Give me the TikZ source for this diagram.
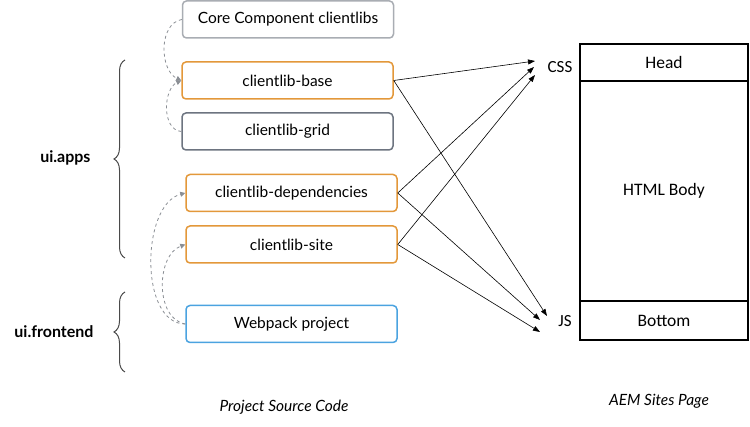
\documentclass[tikz,border=0pt]{standalone}
\usepackage{fontspec}
\setmainfont{Lato}
\newfontfamily\pagefont{Carlito}
\usetikzlibrary{arrows.meta,positioning,decorations.pathreplacing}
\definecolor{liborange}{HTML}{E3983A}
\definecolor{coregray}{HTML}{A9ADB3}
\definecolor{gridgray}{HTML}{6D7480}
\definecolor{webblue}{HTML}{4BA3E0}
\definecolor{depgray}{HTML}{8A8E94}
\definecolor{bracegray}{HTML}{4A4A4A}
\tikzset{
  lib/.style={
    draw=liborange,
    rounded corners=4pt,
    line width=1.5pt,
    fill=white,
    minimum width=211pt,
    minimum height=37pt,
    inner sep=0pt,
    font=\fontsize{15.5}{18}\selectfont
  },
  pagepart/.style={draw=black, line width=1.6pt, minimum width=168pt, inner sep=0pt, font=\pagefont\fontsize{17.5}{20}\selectfont},
  asset/.style={inner sep=0pt, font=\pagefont\fontsize{17}{20}\selectfont},
  load/.style={-{Triangle[length=7pt,width=5pt]}, line width=0.6pt},
  depline/.style={-{Triangle[length=5pt,width=5pt]}, dashed, draw=depgray, line width=0.8pt},
  group/.style={decorate, decoration={brace, amplitude=11pt}, line width=1pt, draw=bracegray},
  grouplabel/.style={font=\bfseries\fontsize{16}{19}\selectfont, anchor=east},
  caption/.style={font=\itshape\fontsize{15.5}{18}\selectfont}
}

\begin{document}
\begin{tikzpicture}[x=1pt, y=1pt]
  \useasboundingbox (0,0) rectangle (750,427);
  \node[lib, draw=coregray] (core) at (288,407.5) {Core Component clientlibs};
  \node[lib] (base) at (287.5,346.5) {clientlib-base};
  \node[lib, draw=gridgray] (grid) at (287.5,295.5) {clientlib-grid};
  \node[lib] (deps) at (291.5,234) {clientlib-dependencies};
  \node[lib] (site) at (291.5,182.5) {clientlib-site};
  \node[lib, draw=webblue] (webpack) at (291.5,103) {Webpack project};

  \node[pagepart, minimum height=37pt] (head) at (664,364.5) {Head};
  \node[pagepart, minimum height=220pt] (body) at (664,236) {HTML Body};
  \node[pagepart, minimum height=39pt] (bottom) at (664,106.5) {Bottom};
  \node[asset] (css) at (560,360) {CSS};
  \node[asset] (js) at (565,106) {JS};

  \coordinate (css1) at (535,366);
  \coordinate (css2) at (534,360);
  \coordinate (css3) at (535,352);
  \coordinate (js1) at (547,111);
  \coordinate (js2) at (540,107);
  \coordinate (js3) at (540,95);

  \draw[load] (base.east) -- (css1);
  \draw[load] (base.east) -- (js1);
  \draw[load] (deps.east) -- (css2);
  \draw[load] (deps.east) -- (js2);
  \draw[load] (site.east) -- (css3);
  \draw[load] (site.east) -- (js3);

  \draw[depline] (core.west) to[out=190, in=155] (base.west);
  \draw[depline] (grid.west) to[out=175, in=205] (base.west);
  \draw[depline] (webpack.west) to[out=180, in=195, looseness=0.9] (deps.west);
  \draw[depline] (webpack.west) to[out=170, in=200] (site.west);

  \coordinate (appstop) at (125,367);
  \coordinate (appsbot) at (125,169);
  \coordinate (fronttop) at (125,135);
  \coordinate (frontbot) at (125,55);
  \draw[group] (appsbot) -- (appstop);
  \draw[group] (frontbot) -- (fronttop);
  \node[grouplabel] (apps) at (94,269) {ui.apps};
  \node[grouplabel] (front) at (97,95) {ui.frontend};

  \node[caption] (srccap) at (284,20) {Project Source Code};
  \node[caption] (pagecap) at (659,26) {AEM Sites Page};
\end{tikzpicture}
\end{document}
